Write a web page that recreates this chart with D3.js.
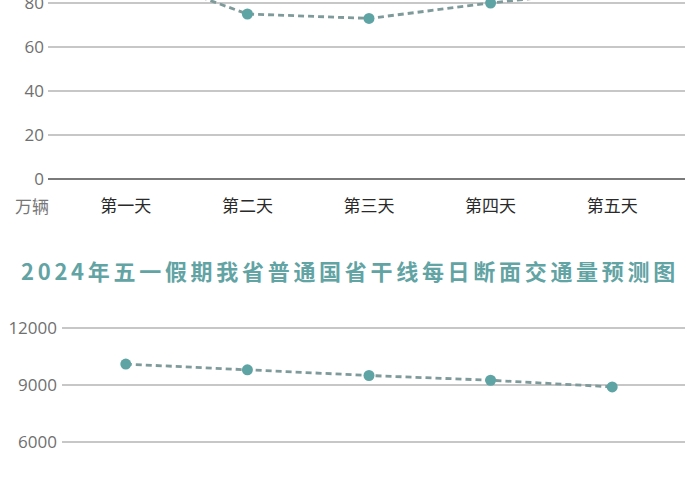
<!DOCTYPE html>
<html>
<head>
<meta charset="utf-8">
<script src="https://cdn.jsdelivr.net/npm/d3@7/dist/d3.min.js"></script>
<style>
  body { margin: 0; background: #fff; }
  svg { display: block; font-family: "Noto Sans CJK SC", "Noto Sans", sans-serif; }
</style>
</head>
<body>
<div id="chart"></div>
<script>
// 数据
const days = ['第一天', '第二天', '第三天', '第四天', '第五天']
const carsTotal = [95, 75, 73, 80, 86]          // 万辆 (上图, 顶部被截断)
const topTicks = [0, 20, 40, 60, 80, 100]
const sectionFlow = [10100, 9800, 9500, 9250, 8900]  // 断面交通量
const bottomTicks = [0, 3000, 6000, 9000, 12000]
const title = '2024年五一假期我省普通国省干线每日断面交通量预测图'
const unitLabel = '万辆'

const width = 700, height = 490
const teal = '#5fa4a4', lineColor = '#7f9a9a', gridColor = '#b4b4b4'

const svg = d3.select('#chart').append('svg')
    .attr('width', width)
    .attr('height', height)

// 两张图共用的x比例尺
const x = d3.scaleBand().domain(days).range([65, 673])

function drawPanel(values, ticks, yScale, gridX1, labelX, zeroDark) {
    const g = svg.append('g')

    // 网格线 + 刻度文字
    const yAxis = d3.axisLeft(yScale).tickValues(ticks).tickSize(0).tickPadding(0)
        .tickFormat(d3.format('d'))
    const ax = g.append('g').attr('transform', `translate(${labelX},0)`).call(yAxis)
    ax.select('.domain').remove()
    ax.selectAll('text')
        .attr('x', 0)
        .attr('fill', '#707070')
        .style('font-size', '17px')
        .style('font-family', '"Open Sans", "Noto Sans", sans-serif')

    g.selectAll('line.grid')
        .data(ticks)
        .enter()
        .append('line')
        .attr('class', 'grid')
        .attr('x1', gridX1)
        .attr('x2', 685)
        .attr('y1', d => yScale(d))
        .attr('y2', d => yScale(d))
        .attr('stroke', d => (d === 0 && zeroDark) ? '#7a7a7a' : gridColor)
        .attr('stroke-width', d => (d === 0 && zeroDark) ? 2.2 : 1.5)

    // 虚线
    const line = d3.line()
        .x((d, i) => x(days[i]) + x.bandwidth() / 2)
        .y(d => yScale(d))
    g.append('path')
        .datum(values)
        .attr('d', line)
        .attr('fill', 'none')
        .attr('stroke', lineColor)
        .attr('stroke-width', 2.8)
        .attr('stroke-dasharray', '6,4')

    g.selectAll('circle')
        .data(values)
        .enter()
        .append('circle')
        .attr('cx', (d, i) => x(days[i]) + x.bandwidth() / 2)
        .attr('cy', d => yScale(d))
        .attr('r', 5.5)
        .attr('fill', teal)
    return g
}

// 上图
const yTop = d3.scaleLinear().domain([0, 100]).range([179, -41])
drawPanel(carsTotal, topTicks, yTop, 48, 44, true)

// x轴标签
const xAxis = d3.axisBottom(x).tickSize(0).tickPadding(0)
const xg = svg.append('g').attr('transform', 'translate(0,200)').call(xAxis)
xg.select('.domain').remove()
xg.selectAll('text')
    .attr('fill', '#2a2a2a')
    .style('font-size', '17px')
    .style('font-family', '"Noto Sans CJK SC", sans-serif')

svg.append('text')
    .attr('x', 32)
    .attr('y', 213)
    .attr('text-anchor', 'middle')
    .attr('fill', '#777')
    .style('font-size', '17px')
    .text(unitLabel)

// 标题
svg.append('text')
    .attr('x', 350)
    .attr('y', 280)
    .attr('text-anchor', 'middle')
    .attr('fill', '#62a3a4')
    .attr('font-weight', 'bold')
    .style('font-size', '22px')
    .style('letter-spacing', '3.7px')
    .text(title)

// 下图
const yBottom = d3.scaleLinear().domain([0, 12000]).range([556, 328])
drawPanel(sectionFlow, bottomTicks, yBottom, 62, 57, false)
</script>
</body>
</html>
